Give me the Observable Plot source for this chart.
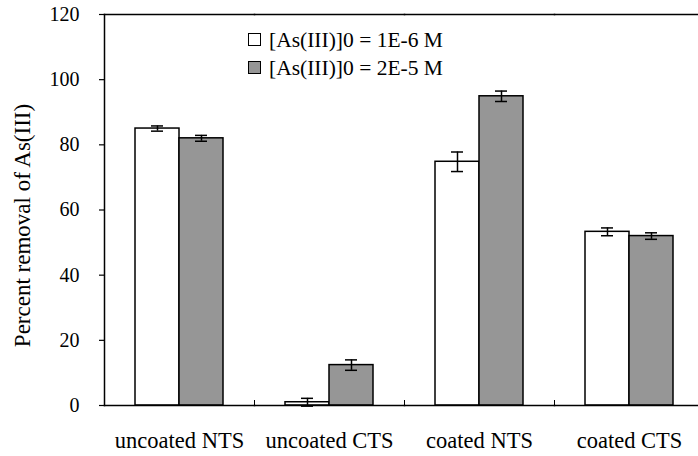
<!DOCTYPE html>
<html>
<head>
<meta charset="utf-8">
<script src="https://cdn.jsdelivr.net/npm/d3@7"></script>
<script src="https://cdn.jsdelivr.net/npm/@observablehq/plot@0.6"></script>
<style>
  html, body { margin: 0; padding: 0; background: #fff; overflow: hidden; }
  #wrap { position: relative; width: 698px; height: 456px; overflow: hidden; }
  #legend { position: absolute; left: 0; top: 0; font-family: "Liberation Serif", "Times New Roman", serif; font-size: 21.5px; color: #000; }
  .sw { position: absolute; width: 11px; height: 11px; border: 1px solid #000; }
  .lt { position: absolute; white-space: nowrap; line-height: 1; }
</style>
</head>
<body>
<div id="wrap"><div id="legend"></div></div>
<script>
const categories = ["uncoated NTS", "uncoated CTS", "coated NTS", "coated CTS"];
const seriesNames = ["[As(III)]0 = 1E-6 M", "[As(III)]0 = 2E-5 M"];
const seriesColors = ["#ffffff", "#969696"];
const lowConcValues = [85.0, 1.0, 74.8, 53.3];
const lowConcErrors = [0.8, 1.2, 3.0, 1.2];
const highConcValues = [82.0, 12.4, 94.9, 52.0];
const highConcErrors = [0.9, 1.6, 1.6, 1.0];
const yTicks = [0, 20, 40, 60, 80, 100, 120];
const yLabel = "Percent removal of As(III)";

const rows = [];
categories.forEach((c, i) => {
  rows.push({cat: c, series: seriesNames[0], value: lowConcValues[i], err: lowConcErrors[i]});
  rows.push({cat: c, series: seriesNames[1], value: highConcValues[i], err: highConcErrors[i]});
});

const plot = Plot.plot({
  width: 704,
  height: 456,
  marginLeft: 104,
  marginRight: 0,
  marginTop: 14,
  marginBottom: 51,
  style: {fontFamily: "'Liberation Serif', 'Times New Roman', serif", fontSize: "20px", color: "#000", background: "#fff", maxWidth: "none", overflow: "visible"},
  fx: {domain: categories, padding: 0, label: null},
  x: {domain: seriesNames, paddingInner: 0, paddingOuter: 0.7045, axis: null},
  y: {domain: [0, 120]},
  color: {domain: seriesNames, range: seriesColors},
  marks: [
    Plot.barY(rows, {fx: "cat", x: "series", y: "value", fill: "series", stroke: "#000", strokeWidth: 1.5}),
    Plot.ruleX(rows, {fx: "cat", x: "series", y1: d => d.value - d.err, y2: d => d.value + d.err, stroke: "#000", strokeWidth: 1.5}),
    Plot.tickY(rows, {fx: "cat", x: "series", y: d => d.value - d.err, insetLeft: 16, insetRight: 16, stroke: "#000", strokeWidth: 1.5}),
    Plot.tickY(rows, {fx: "cat", x: "series", y: d => d.value + d.err, insetLeft: 16, insetRight: 16, stroke: "#000", strokeWidth: 1.5}),
    Plot.frame({anchor: "top", stroke: "#000", strokeWidth: 1.5}),
    Plot.frame({anchor: "bottom", stroke: "#000", strokeWidth: 1.5}),
    Plot.frame({anchor: "left", facetAnchor: "left", stroke: "#000", strokeWidth: 1.5}),
    Plot.frame({anchor: "left", insetTop: 386, stroke: "#000", strokeWidth: 1}),
    Plot.axisY({ticks: yTicks, tickSize: 5, tickPadding: 20, label: null, fontSize: 20, stroke: "#000", strokeWidth: 1.2}),
    Plot.axisFx({anchor: "bottom", tickSize: 0, tickPadding: 27, fontSize: 22.5, label: null}),
    Plot.text([yLabel], {frameAnchor: "left", facetAnchor: "left", textAnchor: "middle", rotate: -90, dx: -82, dy: 15.5, fontSize: 23, fill: "#000"})
  ]
});

const wrap = document.getElementById("wrap");
wrap.insertBefore(plot, wrap.firstChild);
plot.style.display = "block";

const legend = d3.select("#legend");
seriesNames.forEach((name, i) => {
  legend.append("div").attr("class", "sw")
    .style("left", "248px").style("top", (33 + 28 * i) + "px")
    .style("background", seriesColors[i]);
  legend.append("div").attr("class", "lt")
    .style("left", "269px").style("top", (30 + 28 * i) + "px")
    .text(name);
});
</script>
</body>
</html>
